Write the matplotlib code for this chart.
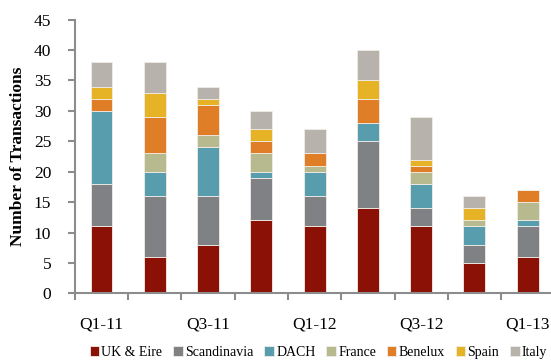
import matplotlib.pyplot as plt
import numpy as np

# quarters and deal counts per region
quarters = ['Q1-11', 'Q2-11', 'Q3-11', 'Q4-11', 'Q1-12', 'Q2-12', 'Q3-12', 'Q4-12', 'Q1-13']
uk_eire = [11, 6, 8, 12, 11, 14, 11, 5, 6]
scandinavia = [7, 10, 8, 7, 5, 11, 3, 3, 5]
dach = [12, 4, 8, 1, 4, 3, 4, 3, 1]
france = [0, 3, 2, 3, 1, 0, 2, 1, 3]
benelux = [2, 6, 5, 2, 2, 4, 1, 0, 2]
spain = [2, 4, 1, 2, 0, 3, 1, 2, 0]
italy = [4, 5, 2, 3, 4, 5, 7, 2, 0]

regions = ['UK & Eire', 'Scandinavia', 'DACH', 'France', 'Benelux', 'Spain', 'Italy']
colors = ['#8B1005', '#808184', '#579DAD', '#B7B98F', '#E07E28', '#E6B326', '#B8B2AC']

plt.rcParams['font.family'] = ['Liberation Serif', 'DejaVu Serif']

fig = plt.figure(figsize=(5.51, 3.64), dpi=100)
ax = fig.add_axes([0.136, 0.194, 0.87, 0.752])

x = np.arange(len(quarters))
bottom = np.zeros(len(quarters))
for name, vals, c in zip(regions, [uk_eire, scandinavia, dach, france, benelux, spain, italy], colors):
    ax.bar(x, vals, 0.41, bottom=bottom, color=c, edgecolor='#f2ece6', linewidth=0.6, label=name)
    bottom += np.array(vals)

ax.set_ylim(0, 45)
ax.set_yticks(range(0, 46, 5))
ax.set_xlim(-0.5, 8.43)

# labels on every other quarter, tick marks at the boundaries
ax.set_xticks(x[::2])
ax.set_xticklabels(quarters[::2])
ax.set_xticks(np.arange(-0.5, 9, 1), minor=True)
ax.tick_params(axis='x', which='major', length=0, pad=17, labelsize=12.5)
ax.tick_params(axis='x', which='minor', length=5, width=1.5, color='#8c8c8c', direction='out')
ax.tick_params(axis='y', length=5, width=1.5, color='#8c8c8c', direction='out', labelsize=12.5, pad=12)

for s in ['top', 'right']:
    ax.spines[s].set_visible(False)
for s in ['left', 'bottom']:
    ax.spines[s].set_color('#8c8c8c')
    ax.spines[s].set_linewidth(1.5)

ax.set_ylabel('Number of Transactions', fontsize=12.5, fontweight='bold', labelpad=6)

fig.legend(loc='lower center', bbox_to_anchor=(0.578, -0.02), ncol=7, frameon=False,
           fontsize=10, handlelength=0.7, handleheight=0.7, handletextpad=0.15,
           columnspacing=0.78)

plt.savefig('out.png', dpi=100)
